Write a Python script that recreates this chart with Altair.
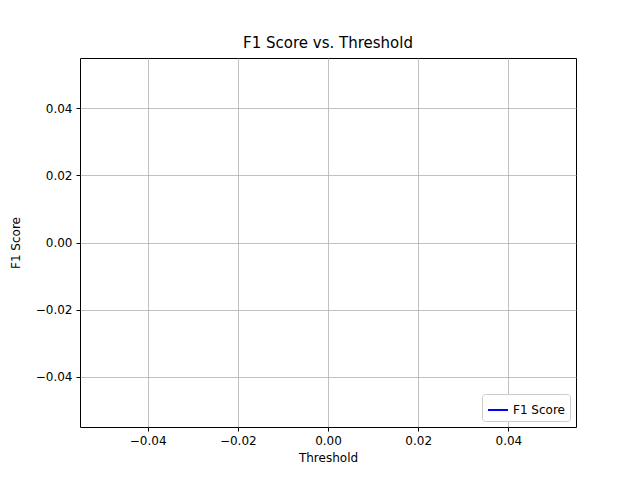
import altair as alt
import pandas as pd

# The reference plot is empty: no F1 values were plotted
thresholds = []
f1_scores = []
series = []

ticks = [-0.04, -0.02, 0.0, 0.02, 0.04]
domain = [-0.055, 0.055]

df = pd.DataFrame({"threshold": pd.Series(thresholds, dtype=float),
                   "f1": pd.Series(f1_scores, dtype=float),
                   "series": pd.Series(series, dtype=str)})

label_expr = "replace(format(datum.value, '.2f'), '-', '\u2212')"

chart = alt.Chart(df).mark_line(strokeWidth=1.5).encode(
    x=alt.X("threshold:Q", title="Threshold",
            scale=alt.Scale(domain=domain, nice=False, zero=False),
            axis=alt.Axis(values=ticks, labelExpr=label_expr)),
    y=alt.Y("f1:Q", title="F1 Score",
            scale=alt.Scale(domain=domain, nice=False, zero=False),
            axis=alt.Axis(values=ticks, labelExpr=label_expr)),
    color=alt.Color("series:N",
                    scale=alt.Scale(domain=["F1 Score"], range=["#0000ff"]),
                    legend=alt.Legend(title=None, orient="bottom-right",
                                      symbolType="stroke", symbolSize=400,
                                      symbolStrokeWidth=2,
                                      fillColor="white", strokeColor="#cccccc",
                                      padding=5, cornerRadius=3,
                                      labelFontSize=12, offset=6)),
).properties(
    width=496, height=369,
    title=alt.TitleParams("F1 Score vs. Threshold", fontSize=15,
                          fontWeight="normal", offset=7),
    autosize=alt.AutoSizeParams(type="none"),
    padding={"left": 72, "top": 50, "right": 56, "bottom": 45},
).configure(
    font="DejaVu Sans"
).configure_view(
    stroke="black", strokeWidth=1
).configure_axis(
    grid=True, gridColor="#b0b0b0", gridWidth=0.8,
    domain=False, tickColor="black", tickSize=4,
    labelColor="black", labelFontSize=12, labelPadding=4,
    titleFontSize=12, titleFontWeight="normal", titleColor="black",
).configure_axisY(titlePadding=13).configure_axisX(titlePadding=6)

chart.save("out.html", embed_options={"renderer": "svg", "actions": False})
